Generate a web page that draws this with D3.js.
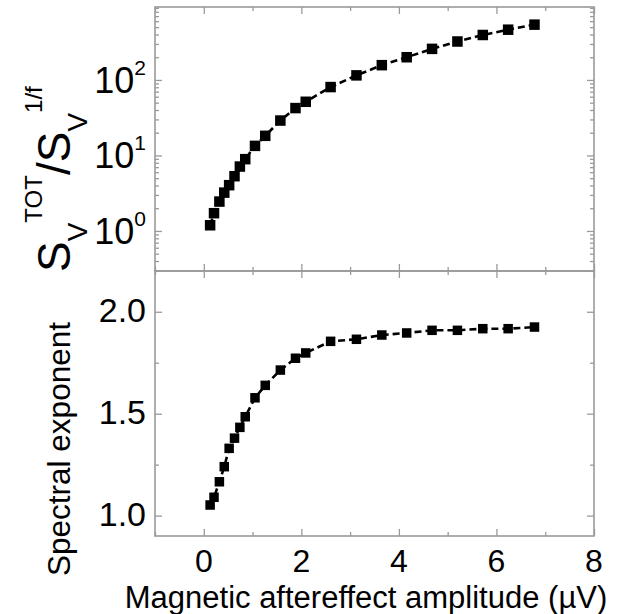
<!DOCTYPE html>
<html>
<head>
<meta charset="utf-8">
<script src="https://cdn.jsdelivr.net/npm/d3@7"></script>
<style>
  body { margin: 0; background: #fff; }
  text { font-family: "Liberation Sans", Arial, sans-serif; fill: #000; }
</style>
</head>
<body>
<svg id="chart" width="621" height="614"></svg>
<script>
"use strict";

// amplitude of the magnetic aftereffect (µV), shared by both panels
var amplitude = [0.13, 0.21, 0.32, 0.42, 0.52, 0.63, 0.74, 0.85, 1.05, 1.26, 1.57, 1.88,
  2.09, 2.60, 3.13, 3.65, 4.16, 4.68, 5.20, 5.72, 6.24, 6.78]
// S_V^TOT / S_V^1/f
var ratio = [1.19, 1.72, 2.45, 3.22, 4.04, 5.31, 7.13, 8.93, 13.4, 18.2, 29.0, 42.4,
  51.4, 80.5, 115, 157, 200, 258, 323, 394, 463, 540]
// spectral exponent
var exponent = [1.052, 1.09, 1.166, 1.24, 1.33, 1.38, 1.433, 1.485, 1.578, 1.639, 1.714, 1.772,
  1.798, 1.855, 1.865, 1.886, 1.896, 1.909, 1.909, 1.917, 1.917, 1.925]

var xMajor = [0, 2, 4, 6, 8]
var xMinor = [-1, 1, 3, 5, 7]
var topMajor = [1, 10, 100]
var topLabels = ["0", "1", "2"]
var botMajor = [1.0, 1.5, 2.0]
var botMinor = [1.25, 1.75]

var svg = d3.select("#chart")
var L = 155, R = 594, T1 = 7, B1 = 271, B2 = 536
var gray = "#9a9a9a"

var x = d3.scaleLinear().domain([-1, 8]).range([L, R])
var yTop = d3.scaleLog().domain([0.295, 925]).range([B1, T1])
var yBot = d3.scaleLinear().domain([0.9, 2.2]).range([B2, B1])

var topMinor = yTop.ticks().filter(function(v) { return topMajor.indexOf(v) < 0 })

// tick marks drawn with d3 axes, no labels
function ticks(axis, values, size, tx, ty) {
  var g = svg.append("g")
    .attr("transform", "translate(" + tx + "," + ty + ")")
    .call(axis.tickValues(values).tickSize(size).tickFormat(""))
  g.select(".domain").remove()
  g.selectAll("line").attr("stroke", gray).attr("stroke-width", 1.3)
}

ticks(d3.axisRight(yTop), topMajor, 7, L, 0)
ticks(d3.axisRight(yTop), topMinor, 4, L, 0)
ticks(d3.axisLeft(yTop), topMajor, 7, R, 0)
ticks(d3.axisLeft(yTop), topMinor, 4, R, 0)
ticks(d3.axisRight(yBot), botMajor, 7, L, 0)
ticks(d3.axisRight(yBot), botMinor, 4, L, 0)
ticks(d3.axisLeft(yBot), botMajor, 7, R, 0)
ticks(d3.axisLeft(yBot), botMinor, 4, R, 0)

;[[d3.axisBottom, T1], [d3.axisTop, B1], [d3.axisBottom, B1], [d3.axisTop, B2]].forEach(function(a) {
  ticks(a[0](x), xMajor, 7, 0, a[1])
  ticks(a[0](x), xMinor, 4, 0, a[1])
})

// frames
svg.append("rect").attr("x", L).attr("y", T1).attr("width", R - L).attr("height", B1 - T1)
  .attr("fill", "none").attr("stroke", gray).attr("stroke-width", 1.6)
svg.append("rect").attr("x", L).attr("y", B1).attr("width", R - L).attr("height", B2 - B1)
  .attr("fill", "none").attr("stroke", gray).attr("stroke-width", 1.6)

// series
function series(yScale, values, size) {
  var pts = amplitude.map(function(a, i) { return [a, values[i]] })
  svg.append("path")
    .datum(pts)
    .attr("fill", "none")
    .attr("stroke", "#000")
    .attr("stroke-width", 2.6)
    .attr("stroke-dasharray", "7,4")
    .attr("d", d3.line().x(function(d) { return x(d[0]) }).y(function(d) { return yScale(d[1]) }))
  svg.append("g").selectAll("rect")
    .data(pts)
    .enter()
    .append("rect")
      .attr("x", function(d) { return x(d[0]) - size / 2 })
      .attr("y", function(d) { return yScale(d[1]) - size / 2 })
      .attr("width", size)
      .attr("height", size)
      .attr("fill", "#000")
}
series(yTop, ratio, 10.5)
series(yBot, exponent, 9.5)

// tick labels
var topLab = svg.append("g").selectAll("text")
  .data(topMajor)
  .enter()
  .append("text")
    .attr("x", 146)
    .attr("y", function(d) { return yTop(d) + 13 })
    .attr("text-anchor", "end")
    .style("font-size", "36px")
topLab.append("tspan").text("10")
topLab.append("tspan")
  .attr("dy", -18)
  .style("font-size", "21px")
  .text(function(d, i) { return topLabels[i] })

svg.append("g").selectAll("text")
  .data(botMajor)
  .enter()
  .append("text")
    .attr("x", 146)
    .attr("y", function(d) { return yBot(d) + 10 })
    .attr("text-anchor", "end")
    .style("font-size", "34px")
    .text(function(d) { return d3.format(".1f")(d) })

svg.append("g").selectAll("text")
  .data(xMajor)
  .enter()
  .append("text")
    .attr("x", function(d) { return x(d) })
    .attr("y", 572)
    .attr("text-anchor", "middle")
    .style("font-size", "32px")
    .text(function(d) { return d })

// axis titles
svg.append("text")
  .attr("x", 366)
  .attr("y", 608)
  .attr("text-anchor", "middle")
  .style("font-size", "31px")
  .text("Magnetic aftereffect amplitude (µV)")

svg.append("text")
  .attr("transform", "translate(70,449) rotate(-90)")
  .attr("text-anchor", "middle")
  .style("font-size", "31.5px")
  .text("Spectral exponent")

var yt = svg.append("text")
  .attr("transform", "translate(70,272) rotate(-90)")
  .style("font-size", "46px")
yt.append("tspan").text("S")
yt.append("tspan").attr("dy", 17).style("font-size", "28px").text("V")
yt.append("tspan").attr("dy", -45).style("font-size", "24px").text("TOT")
yt.append("tspan").attr("dy", 28).text("/S")
yt.append("tspan").attr("dy", 17).style("font-size", "28px").text("V")
yt.append("tspan").attr("dy", -45).style("font-size", "24px").text("1/f")
</script>
</body>
</html>
